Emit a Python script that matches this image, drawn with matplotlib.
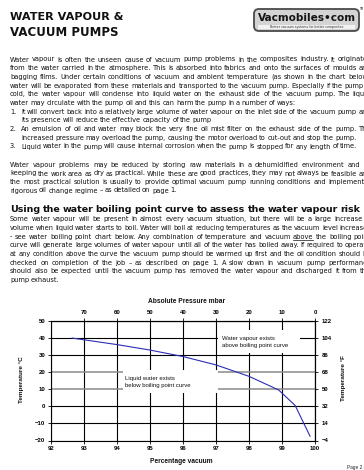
import matplotlib
matplotlib.use('Agg')
import matplotlib.pyplot as plt
from matplotlib.patches import FancyBboxPatch, Rectangle

# ---------------- data ----------------
vacuum_pct = [92.65, 93.0, 94.0, 95.0, 96.0, 97.0, 98.0, 98.9, 99.4, 99.65, 99.85]
boil_temp_c = [40.0, 39.0, 36.2, 33.0, 29.2, 24.3, 17.6, 9.6, 0.5, -9.5, -17.5]
x_ticks = [92, 93, 94, 95, 96, 97, 98, 99, 100]
y_ticks = [-20, -10, 0, 10, 20, 30, 40, 50]
pressure_ticks = [70, 60, 50, 40, 30, 20, 10, 0]
fahrenheit_ticks = [122, 104, 86, 68, 50, 32, 14, -4]

title_lines = ["WATER VAPOUR &", "VACUUM PUMPS"]
para1 = [
    ("Water vapour is often the unseen cause of vacuum pump problems in the composites industry.  It originates", True, ""),
    ("from the water carried in the atmosphere.  This is absorbed into fabrics and onto the surfaces of moulds and", True, ""),
    ("bagging films.  Under certain conditions of vacuum and ambient temperature (as shown in the chart below)", True, ""),
    ("water will be evaporated from these materials and transported to the vacuum pump.  Especially if the pump is", True, ""),
    ("cold, the water vapour will condense into liquid water on the exhaust side of the vacuum pump.  The liquid", True, ""),
    ("water may circulate with the pump oil and this can harm the pump in a number of ways:", False, ""),
    ("It will convert back into a relatively large volume of water vapour on the inlet side of the vacuum pump and", True, "1."),
    ("its presence will reduce the effective capacity of the pump", False, " "),
    ("An emulsion of oil and water may block the very fine oil mist filter on the exhaust side of the pump.  The", True, "2."),
    ("increased pressure may overload the pump, causing the motor overload to cut-out and stop the pump.", False, " "),
    ("Liquid water in the pump will cause internal corrosion when the pump is stopped for any length of time.", False, "3."),
]
para2 = [
    ("Water vapour problems may be reduced by storing raw materials in a dehumidified environment and by", True),
    ("keeping the work area as dry as practical.  While these are good practices, they may not always be feasible and", True),
    ("the most practical solution is usually to provide optimal vacuum pump running conditions and implement a", True),
    ("rigorous oil change regime \u2013 as detailed on page 1.", False),
]
heading = "Using the water boiling point curve to assess the water vapour risk"
para3 = [
    ("Some water vapour will be present in almost every vacuum situation, but there will be a large increase in", True),
    ("volume when liquid water starts to boil.  Water will boil at reducing temperatures as the vacuum level increases", True),
    ("- see water boiling point chart below.  Any combination of temperature and vacuum above the boiling point", True),
    ("curve will generate large volumes of water vapour until all of the water has boiled away.  If required to operate", True),
    ("at any condition above the curve the vacuum pump should be warmed up first and the oil condition should be", True),
    ("checked on completion of the job \u2013 as described on page 1.  A slow down in vacuum pump performance", True),
    ("should also be expected until the vacuum pump has removed the water vapour and discharged it from the", True),
    ("pump exhaust.", False),
]

# ---------------- figure ----------------
W, H = 364, 470
fig = plt.figure(figsize=(W / 100, H / 100), dpi=100)
fig.patch.set_facecolor('white')
renderer = fig.canvas.get_renderer()

page = fig.add_axes([0, 0, 1, 1])
page.set_xlim(0, W)
page.set_ylim(H, 0)
page.axis('off')

BODY_FONT = 'DejaVu Sans'
GAP_FACTOR = 0.7
_cache = {}


def width_of(s, size, weight='normal', family=BODY_FONT):
    key = (s, size, weight, family)
    if key not in _cache:
        t = page.text(0, 0, s, fontsize=size, fontweight=weight, family=family)
        _cache[key] = t.get_window_extent(renderer).width
        t.remove()
    return _cache[key]


def space_of(size, weight='normal'):
    return (width_of('a a', size, weight) - width_of('aa', size, weight)) * GAP_FACTOR


def natural_width(s, size, weight='normal'):
    ws = s.split()
    return sum(width_of(w, size, weight) for w in ws) + (len(ws) - 1) * space_of(size, weight)


def draw_line(s, y, x0, size, x1=None, weight='normal', color='#111111', underline=()):
    ws = s.split()
    widths = [width_of(w, size, weight) for w in ws]
    if x1 is not None and len(ws) > 1:
        gap = (x1 - x0 - sum(widths)) / (len(ws) - 1)
    else:
        gap = space_of(size, weight)
    x = x0
    base = y + 2.0
    for w, wd in zip(ws, widths):
        page.text(x, base, w, fontsize=size, fontweight=weight, family=BODY_FONT,
                  color=color, ha='left', va='baseline')
        if w in underline:
            page.plot([x, x + wd], [base + 1.0, base + 1.0], color=color, lw=0.5)
        x += wd + gap


# body font size fitted to the natural width of item 3
ref = 10.0
BODY = ref * (355 - 21) / natural_width(para1[10][0], ref)
MARGIN = 371

# title
for s, y, wt in [(title_lines[0], 15.5, 113), (title_lines[1], 31.5, 107)]:
    sz = 12 * wt / width_of(s, 12, 'bold')
    page.text(10, y + 4, s, fontsize=sz, fontweight='bold', family=BODY_FONT,
              color='#111111', ha='left', va='baseline')

# logo
lax = fig.add_axes([253 / W, 1 - 32 / H, 107 / W, 24 / H])
lax.set_xlim(0, 107)
lax.set_ylim(0, 24)
lax.axis('off')
lax.add_patch(FancyBboxPatch((1, 1), 105, 22, boxstyle='round,pad=0,rounding_size=5',
                             facecolor='#d4d4d4', edgecolor='#4a4a4a', lw=1.3))
lax.add_patch(Rectangle((5, 3.2), 97, 4.2, facecolor='#f2f2f2', edgecolor='none'))
logo = 'Vacmobiles\u2022com'
lsz = 9 * 98 / width_of(logo, 9, 'bold')
lax.text(53.5, 13.8, logo, fontsize=lsz, fontweight='bold', family='DejaVu Sans',
         color='#151515', ha='center', va='center')
lax.text(53.5, 5.3, 'Better vacuum systems for better composites', fontsize=2.3,
         family='DejaVu Sans', color='#333333', ha='center', va='center')
page.text(359.5, 9, 'TM', fontsize=2.2, color='#333333', ha='left', va='center')

# paragraph 1
y = 59.5
for s, just, num in para1:
    if num:
        if num.strip():
            page.text(10, y + 2.0, num, fontsize=BODY, family=BODY_FONT, color='#111111',
                      ha='left', va='baseline')
        x0 = 21
    else:
        x0 = 10
    draw_line(s, y, x0, BODY, x1=MARGIN if just else None)
    y += 8.7

# paragraph 2
y = 165
for s, just in para2:
    draw_line(s, y, 10, BODY, x1=MARGIN if just else None)
    y += 8.5

# heading
hs = 10 * 350 / natural_width(heading, 10, 'bold')
draw_line(heading, 209.5, 10, hs, weight='bold', color='#111111')

# paragraph 3
y = 219.3
for s, just in para3:
    draw_line(s, y, 10, BODY, x1=MARGIN if just else None,
              underline=('above',) if s.startswith('- see') else ())
    y += 8.7

page.text(347, 467, 'Page 2 of 2', fontsize=3.4, family='Liberation Sans', color='#222222',
          ha='left', va='center')

# ---------------- chart ----------------
CF = 'Liberation Sans'
TS = 4.3
ax = fig.add_axes([50.7 / W, 1 - 440.5 / H, (315 - 50.7) / W, (440.5 - 321) / H])
ax.set_xlim(92, 100)
ax.set_ylim(-20, 50)
ax.set_xticks(x_ticks)
ax.set_yticks(y_ticks)
ax.set_axisbelow(True)
ax.grid(True, color='black', lw=0.8)
for gl, v in zip(ax.get_ygridlines(), y_ticks):
    if v in (10, 20):
        gl.set_color('#8a8a8a')
        gl.set_linewidth(1.1)
for sp in ax.spines.values():
    sp.set_linewidth(0.8)
ax.tick_params(length=2, width=0.6, pad=2, labelsize=TS)
for lbl in ax.get_xticklabels() + ax.get_yticklabels():
    lbl.set_family(CF)
    lbl.set_fontweight('bold')

# white label panels
ax.add_patch(Rectangle((97.05, 31.2), 2.5, 13.5, facecolor='white', edgecolor='none', zorder=1))
ax.add_patch(Rectangle((94.2, 7.6), 2.86, 13.8, facecolor='white', edgecolor='none', zorder=1))

ax.plot(vacuum_pct, boil_temp_c, color='#2d2db4', lw=0.8, zorder=3)

ax.text(97.18, 37.6, 'Water vapour exists\nabove boiling point curve', fontsize=TS,
        family=CF, color='#111111', ha='left', va='center', linespacing=1.45, zorder=4)
ax.text(94.24, 14.4, 'Liquid water exists\nbelow boiling point curve', fontsize=TS,
        family=CF, color='#111111', ha='left', va='center', linespacing=1.45, zorder=4)

top = ax.secondary_xaxis('top', functions=(lambda p: (100 - p) * 10, lambda m: 100 - m / 10))
top.set_xticks(pressure_ticks)
top.tick_params(length=2, width=0.6, pad=2, labelsize=TS)
for lbl in top.get_xticklabels():
    lbl.set_family(CF)
    lbl.set_fontweight('bold')

right = ax.secondary_yaxis('right', functions=(lambda c: c * 9 / 5 + 32, lambda f: (f - 32) * 5 / 9))
right.set_yticks(fahrenheit_ticks)
right.tick_params(length=2, width=0.6, pad=3, labelsize=TS)
for lbl in right.get_yticklabels():
    lbl.set_family(CF)
    lbl.set_fontweight('bold')

page.text(187, 301.7, 'Absolute Pressure mbar', fontsize=4.8, fontweight='bold', family=CF,
          ha='center', va='center', color='#111111')
page.text(181, 461.5, 'Percentage vacuum', fontsize=4.8, fontweight='bold', family=CF,
          ha='center', va='center', color='#111111')
page.text(21.5, 380, 'Temperature \u00b0C', fontsize=4.6, fontweight='bold', family=CF,
          rotation=90, ha='center', va='center', color='#111111')
page.text(343, 378, 'Temperature \u00b0F', fontsize=4.6, fontweight='bold', family=CF,
          rotation=90, ha='center', va='center', color='#111111')

fig.savefig('out.png', dpi=100, facecolor='white')
